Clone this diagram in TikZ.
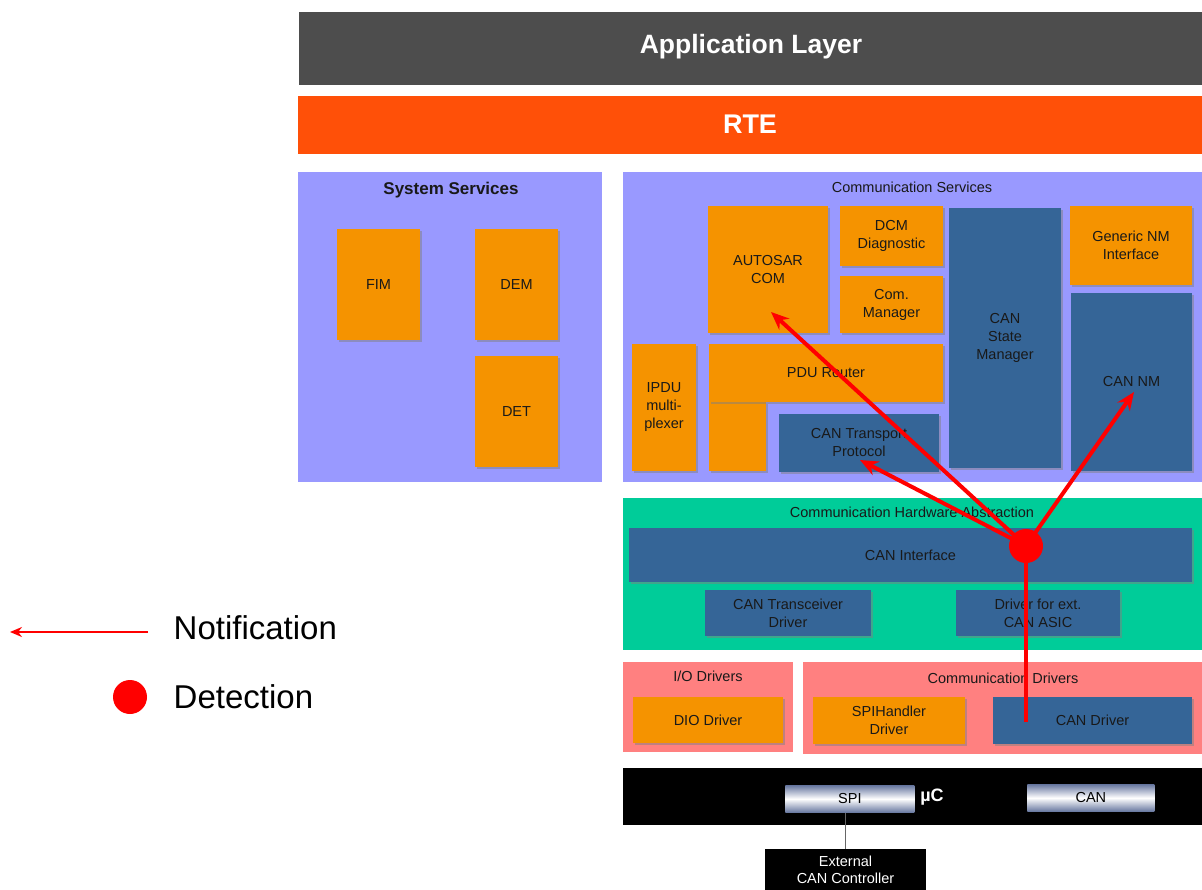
\documentclass[tikz,border=0pt]{standalone}
\usepackage{fontspec}
\setmainfont{Liberation Sans}
\usetikzlibrary{arrows.meta,shadows}

\definecolor{appgrey}{HTML}{4D4D4D}
\definecolor{rteorange}{HTML}{FF5008}
\definecolor{svcpurple}{HTML}{9999FF}
\definecolor{hwgreen}{HTML}{00CC99}
\definecolor{drvpink}{HTML}{FF8080}
\definecolor{modorange}{HTML}{F59300}
\definecolor{modblue}{HTML}{356597}
\definecolor{pinslate}{HTML}{6878A0}
\definecolor{notered}{HTML}{FF0000}

\tikzset{every picture/.style={line width=0.75pt}}
\tikzset{
  area/.style={anchor=north west, inner sep=0pt, outer sep=0pt},
  module/.style={anchor=north west, inner sep=0pt, outer sep=0pt, align=center,
    text=black!90, font=\fontsize{14.5}{18}\selectfont,
    drop shadow={shadow xshift=2pt, shadow yshift=-2pt, opacity=0.5}},
  orangemod/.style={module, fill=modorange},
  bluemod/.style={module, fill=modblue},
  areatitle/.style={font=\fontsize{14.5}{16}\selectfont, text=black!90},
  pinbox/.style={anchor=north west, inner sep=0pt, font=\fontsize{14.5}{16}\selectfont,
    top color=pinslate, bottom color=pinslate, middle color=white},
  notify/.style={draw=notered, line width=4pt, -{Stealth[length=18pt,width=15pt]}},
}

\begin{document}
\begin{tikzpicture}[x=1pt,y=1pt,yscale=-1,xscale=1]
\useasboundingbox (0,0) rectangle (1202,890);

% top layers
\node[area, fill=appgrey, minimum width=903pt, minimum height=73pt] (app) at (299,12) {};
\node[text=white, font=\bfseries\fontsize{26.5}{30}\selectfont] (apptext) at (751,47) {Application Layer};
\node[area, fill=rteorange, minimum width=904pt, minimum height=58pt] (rte) at (298,96) {};
\node[text=white, font=\bfseries\fontsize{27}{30}\selectfont] (rtetext) at (750,124) {RTE};

% system services
\node[area, fill=svcpurple, minimum width=304pt, minimum height=310pt] (syssvc) at (298,172) {};
\node[areatitle, font=\bfseries\fontsize{17}{20}\selectfont] (syssvctitle) at (451,190) {System Services};
\node[orangemod, minimum width=83pt, minimum height=111pt] (fim) at (337,229) {FIM};
\node[orangemod, minimum width=83pt, minimum height=111pt] (dem) at (475,229) {DEM};
\node[orangemod, minimum width=83pt, minimum height=111pt] (det) at (475,356) {DET};

% communication services
\node[area, fill=svcpurple, minimum width=579pt, minimum height=310pt] (comsvc) at (623,172) {};
\node[areatitle] (comsvctitle) at (912,187) {Communication Services};
\node[orangemod, minimum width=120pt, minimum height=127pt] (autosarcom) at (708,206) {AUTOSAR\\COM};
\node[orangemod, minimum width=103pt, minimum height=60pt] (dcm) at (840,206) {DCM\\Diagnostic};
\node[orangemod, minimum width=103pt, minimum height=57pt] (commgr) at (840,276) {Com.\\Manager};
\node[bluemod, minimum width=112pt, minimum height=260pt] (cansm) at (949,208) {CAN\\State\\Manager};
\node[orangemod, minimum width=122pt, minimum height=79pt] (nmif) at (1070,206) {Generic NM\\Interface};
\node[bluemod, minimum width=121pt, minimum height=178pt] (cannm) at (1071,293) {CAN NM};
\node[orangemod, minimum width=64pt, minimum height=127pt] (ipdum) at (632,344) {IPDU\\multi-\\plexer};
\node[orangemod, minimum width=57pt, minimum height=69pt] (pdurfoot) at (709,402) {};
\node[orangemod, minimum width=234pt, minimum height=58pt] (pdur) at (709,344) {PDU Router};
\node[bluemod, minimum width=160pt, minimum height=58pt] (cantp) at (779,414) {CAN Transport\\Protocol};

% communication hardware abstraction
\node[area, fill=hwgreen, minimum width=579pt, minimum height=152pt] (comhw) at (623,498) {};
\node[areatitle] (comhwtitle) at (912,512) {Communication Hardware Abstraction};
\node[bluemod, minimum width=563pt, minimum height=54pt] (canif) at (629,528) {CAN Interface};
\node[bluemod, minimum width=166pt, minimum height=46pt] (cantrcv) at (705,590) {CAN Transceiver\\Driver};
\node[bluemod, minimum width=164pt, minimum height=46pt] (extasic) at (956,590) {Driver for ext.\\CAN ASIC};

% drivers
\node[area, fill=drvpink, minimum width=170pt, minimum height=90pt] (iodrv) at (623,662) {};
\node[areatitle] (iodrvtitle) at (708,676) {I/O Drivers};
\node[orangemod, minimum width=150pt, minimum height=46pt] (dio) at (633,697) {DIO Driver};
\node[area, fill=drvpink, minimum width=399pt, minimum height=92pt] (comdrv) at (803,662) {};
\node[areatitle] (comdrvtitle) at (1003,678) {Communication Drivers};
\node[orangemod, minimum width=152pt, minimum height=47pt] (spihandler) at (813,697) {SPIHandler\\Driver};
\node[bluemod, minimum width=199pt, minimum height=47pt] (candrv) at (993,697) {CAN Driver};

% microcontroller
\node[area, fill=black, minimum width=579pt, minimum height=57pt] (mcu) at (623,768) {};
\node[text=white, font=\bfseries\fontsize{18}{20}\selectfont] (mcutext) at (932,797) {\textmu C};
\node[pinbox, minimum width=129pt, minimum height=27pt] (spi) at (785,785) {SPI};
\node[pinbox, minimum width=127pt, minimum height=27pt] (canpin) at (1027,784) {CAN};
\node[area, fill=black, text=white, align=center, font=\fontsize{14.5}{17}\selectfont,
  minimum width=161pt, minimum height=41pt] (extctl) at (765,849) {External\\CAN Controller};
\draw[black!60, line width=1pt] (extctl.north) -- (extctl.north |- spi.south);

% notification paths
\coordinate (comtip) at (771,312);
\coordinate (tptip) at (860,460);
\coordinate (nmtip) at (1134,392);
\coordinate (drvend) at (1026,722);
\node[circle, fill=notered, minimum size=34pt, inner sep=0pt] (detect) at (1026,546) {};
\draw[notify] (detect.center) -- (comtip);
\draw[notify] (detect.center) -- (tptip);
\draw[notify] (detect.center) -- (nmtip);
\draw[draw=notered, line width=4pt] (detect.center) -- (drvend);

% legend
\coordinate (legstart) at (148,632);
\coordinate (legend) at (10,632);
\draw[draw=notered, line width=2.5pt, -{Stealth[length=12pt,width=10pt]}] (legstart) -- (legend);
\node[anchor=west, font=\fontsize{33}{36}\selectfont] (notifytext) at (170,628) {Notification};
\node[circle, fill=notered, minimum size=34pt, inner sep=0pt] (legdot) at (130,697) {};
\node[anchor=west, font=\fontsize{33}{36}\selectfont] (detecttext) at (170,697) {Detection};

\end{tikzpicture}
\end{document}
